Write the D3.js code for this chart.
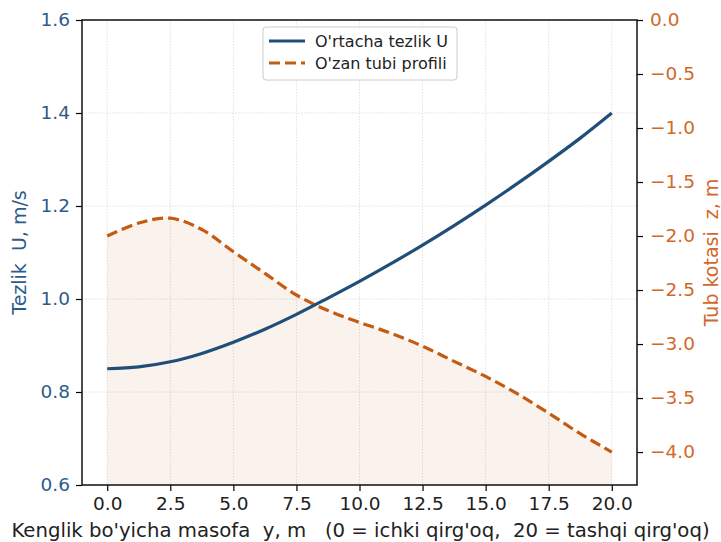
<!DOCTYPE html>
<html>
<head>
<meta charset="utf-8">
<script src="https://cdn.jsdelivr.net/npm/d3@7/dist/d3.min.js"></script>
<style>
    html, body { margin: 0; padding: 0; background: #fff; }
    svg { display: block; font-family: "DejaVu Sans", sans-serif; }
</style>
</head>
<body>
<svg id="chart" width="721" height="542"></svg>
<script>
    // Data
    var distance = [0, 1.25, 2.5, 3.75, 5, 6.25, 7.5, 8.75, 10, 11.25, 12.5, 13.75, 15, 16.25, 17.5, 18.75, 20];
    var velocity = [0.850, 0.854, 0.865, 0.883, 0.907, 0.935, 0.967, 1.002, 1.038, 1.076, 1.116, 1.158, 1.202, 1.248, 1.296, 1.346, 1.400];
    var bedLevel = [-2.00, -1.88, -1.835, -1.94, -2.145, -2.346, -2.546, -2.69, -2.80, -2.90, -3.02, -3.16, -3.30, -3.46, -3.64, -3.83, -4.00];

    var xTicks = [0, 2.5, 5, 7.5, 10, 12.5, 15, 17.5, 20];
    var uTicks = [0.6, 0.8, 1.0, 1.2, 1.4, 1.6];
    var zTicks = [0, -0.5, -1, -1.5, -2, -2.5, -3, -3.5, -4];

    var legendItems = ["O'rtacha tezlik U", "O'zan tubi profili"];

    var blue = '#1f4e79',
        orange = '#c55a11',
        blueText = '#2e5c8a',
        orangeText = '#d2692a';

    var margin = {left: 82, top: 20, right: 84, bottom: 57},
        width = 721 - margin.left - margin.right,
        height = 542 - margin.top - margin.bottom;

    var svg = d3.select('#chart');
    var g = svg.append('g')
        .attr('transform', `translate(${margin.left},${margin.top})`);

    var x = d3.scaleLinear().domain([-1, 21]).range([0, width]);
    var yU = d3.scaleLinear().domain([0.6, 1.6]).range([height, 0]);
    var yZ = d3.scaleLinear().domain([-4.305, 0]).range([height, 0]);

    var points = distance.map((d, i) => ({d: d, u: velocity[i], z: bedLevel[i]}));

    // Grid
    var grid = g.append('g').attr('class', 'grid');
    grid.selectAll('line.gx')
        .data(xTicks)
        .enter().append('line')
        .attr('x1', d => x(d)).attr('x2', d => x(d))
        .attr('y1', 0).attr('y2', height)
        .attr('stroke', '#d9d9d9').attr('stroke-width', 0.8)
        .attr('stroke-dasharray', '1.5,1.5');
    grid.selectAll('line.gy')
        .data(uTicks)
        .enter().append('line')
        .attr('x1', 0).attr('x2', width)
        .attr('y1', d => yU(d)).attr('y2', d => yU(d))
        .attr('stroke', '#d9d9d9').attr('stroke-width', 0.8)
        .attr('stroke-dasharray', '1.5,1.5');

    // Bed fill down to the bottom of the axis
    var area = d3.area()
        .x(p => x(p.d))
        .y0(height)
        .y1(p => yZ(p.z))
        .curve(d3.curveCatmullRom);
    g.append('path')
        .datum(points)
        .attr('d', area)
        .attr('fill', orange)
        .attr('fill-opacity', 0.08);

    // Lines
    var uLine = d3.line()
        .x(p => x(p.d))
        .y(p => yU(p.u))
        .curve(d3.curveCatmullRom);
    var zLine = d3.line()
        .x(p => x(p.d))
        .y(p => yZ(p.z))
        .curve(d3.curveCatmullRom);

    g.append('path')
        .datum(points)
        .attr('d', zLine)
        .attr('fill', 'none')
        .attr('stroke', orange)
        .attr('stroke-width', 3.2)
        .attr('stroke-dasharray', '11,5');

    g.append('path')
        .datum(points)
        .attr('d', uLine)
        .attr('fill', 'none')
        .attr('stroke', blue)
        .attr('stroke-width', 3.2);

    // Axes
    function styleAxis(sel, color) {
        sel.selectAll('.domain').remove();
        sel.selectAll('.tick line').attr('stroke', '#000').attr('stroke-width', 1.2);
        sel.selectAll('.tick text')
            .attr('fill', color)
            .style('font-size', '18.5px')
            .style('font-family', '"DejaVu Sans", sans-serif');
    }

    var fmt = d3.format('.1f');
    var minusFmt = d => fmt(d).replace('-', '\u2212');

    g.append('g')
        .attr('transform', `translate(0,${height})`)
        .call(d3.axisBottom(x).tickValues(xTicks).tickFormat(fmt).tickSize(6).tickPadding(6))
        .call(sel => styleAxis(sel, '#222'));

    g.append('g')
        .call(d3.axisLeft(yU).tickValues(uTicks).tickFormat(fmt).tickSize(6).tickPadding(6))
        .call(sel => styleAxis(sel, blueText));

    g.append('g')
        .attr('transform', `translate(${width},0)`)
        .call(d3.axisRight(yZ).tickValues(zTicks).tickFormat(minusFmt).tickSize(6).tickPadding(7))
        .call(sel => styleAxis(sel, orangeText));

    // Frame
    g.append('rect')
        .attr('width', width).attr('height', height)
        .attr('fill', 'none')
        .attr('stroke', '#111')
        .attr('stroke-width', 1.5);

    // Axis labels
    svg.append('text')
        .attr('x', margin.left + width / 2 + 1)
        .attr('y', 537)
        .attr('text-anchor', 'middle')
        .attr('fill', '#222')
        .style('font-size', '19.7px')
        .style('white-space', 'pre')
        .text("Kenglik bo'yicha masofa  y, m   (0 = ichki qirg'oq,  20 = tashqi qirg'oq)");

    svg.append('text')
        .attr('transform', `translate(26,${margin.top + height / 2}) rotate(-90)`)
        .attr('text-anchor', 'middle')
        .attr('fill', blueText)
        .style('font-size', '19px')
        .style('white-space', 'pre')
        .text('Tezlik  U, m/s');

    svg.append('text')
        .attr('transform', `translate(718,${margin.top + height / 2}) rotate(-90)`)
        .attr('text-anchor', 'middle')
        .attr('fill', orangeText)
        .style('font-size', '19px')
        .style('white-space', 'pre')
        .text('Tub kotasi  z, m');

    // Legend
    var legend = g.append('g')
        .attr('transform', `translate(${263 - margin.left},${27 - margin.top})`);
    legend.append('rect')
        .attr('width', 194).attr('height', 53)
        .attr('rx', 3)
        .attr('fill', '#fff').attr('fill-opacity', 0.85)
        .attr('stroke', '#cccccc');
    legendItems.forEach((label, i) => {
        var row = legend.append('g')
            .attr('transform', `translate(6,${14 + i * 22})`);
        row.append('line')
            .attr('x1', 0).attr('x2', 36)
            .attr('stroke', i ? orange : blue)
            .attr('stroke-width', 3.2)
            .attr('stroke-dasharray', i ? '11,5' : null);
        row.append('text')
            .attr('x', 46).attr('y', 5.5)
            .attr('fill', '#222')
            .style('font-size', '16px')
            .text(label);
    });
</script>
</body>
</html>
